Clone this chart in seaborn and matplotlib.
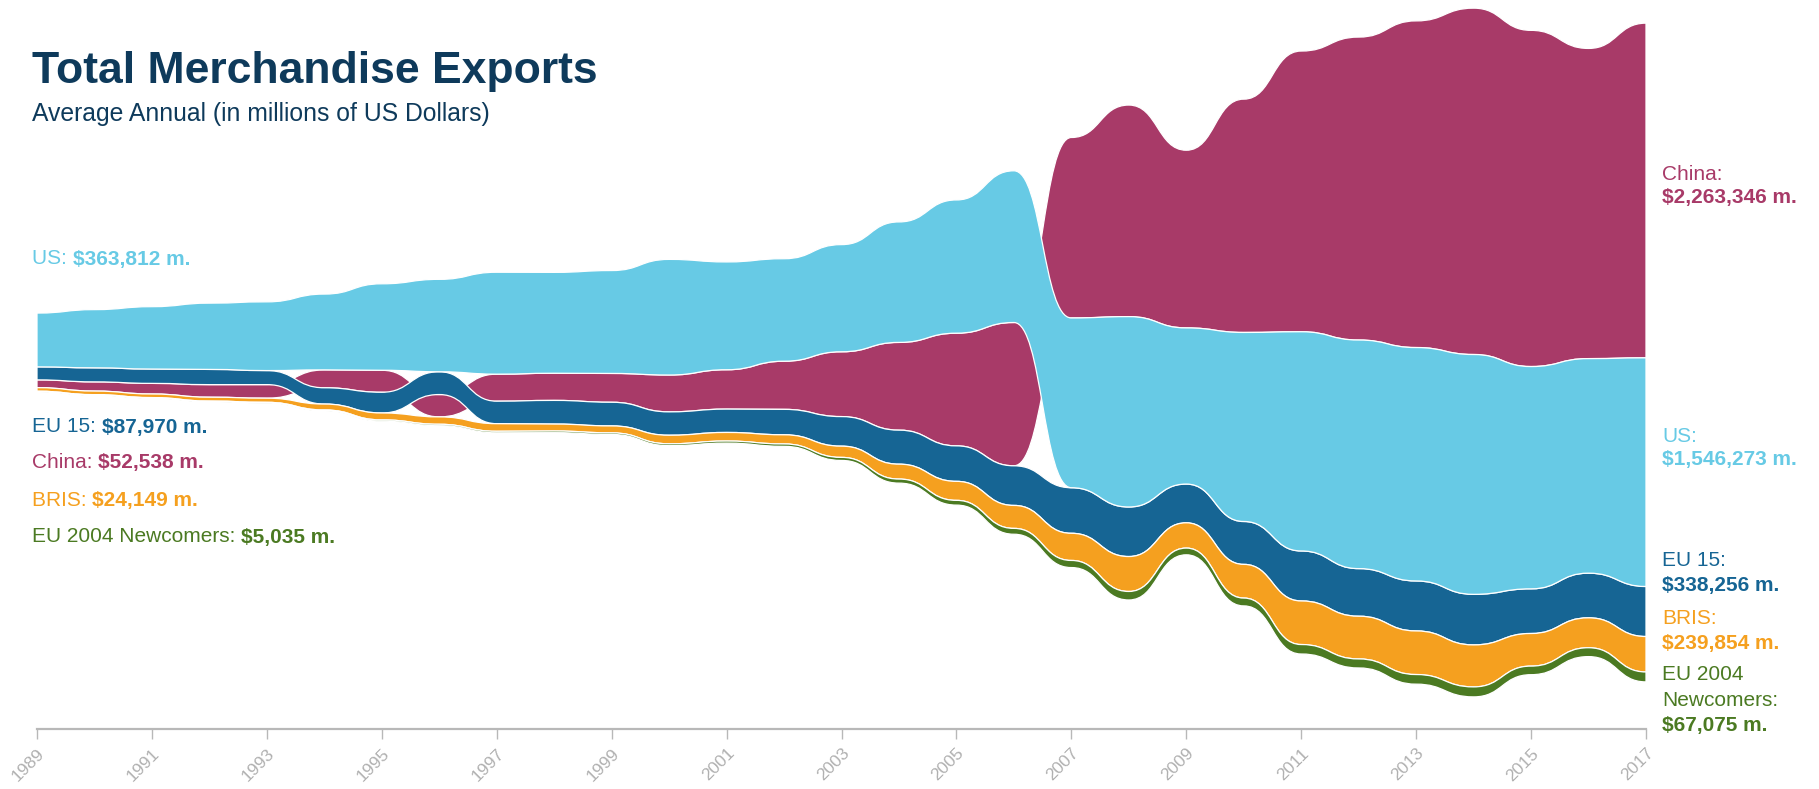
import matplotlib

matplotlib.use('Agg')
import matplotlib.pyplot as plt
import pandas as pd
import seaborn as sns
from matplotlib.patches import PathPatch
from matplotlib.path import Path

years = list(range(1989, 2018))

us = [363812, 393592, 421730, 448164, 464773, 512627, 584742, 625075, 689182, 682138,
      695797, 781918, 729100, 693103, 724771, 814875, 901082, 1025967, 1148199, 1287442,
      1056043, 1278495, 1482508, 1545821, 1578517, 1621874, 1503328, 1451024, 1546273]
china = [52538, 62091, 71843, 84940, 91744, 121006, 148780, 151048, 182792, 183712,
         194931, 249203, 266098, 325596, 438228, 593326, 761953, 968978, 1220456, 1430693,
         1201612, 1577754, 1898381, 2048714, 2209005, 2342293, 2273468, 2097637, 2263346]
eu15 = [87970, 95000, 97000, 103000, 95000, 110000, 140000, 154000, 152000, 160000,
        160000, 158000, 158000, 172000, 200000, 230000, 240000, 268000, 308000, 335000,
        262000, 290000, 338000, 322000, 338000, 342000, 302000, 302000, 338256]
bris = [24149, 24300, 24300, 26300, 28100, 40000, 47000, 50000, 51500, 47000,
        47000, 58000, 58000, 62000, 76000, 100700, 128600, 155300, 183800, 236300,
        171000, 227800, 294700, 288900, 294800, 284000, 220500, 202300, 239854]
newcomers = [5035, 5200, 5300, 5500, 5800, 6800, 9000, 9600, 10200, 11200,
             11000, 12500, 14000, 16000, 20500, 27500, 32000, 39500, 48000, 57600,
             45500, 53000, 64000, 61000, 65000, 67500, 58000, 60000, 67075]

# drawing order: later names sit on top where bands cross
draw_order = ['China', 'EU 15', 'US', 'BRIS', 'EU 2004 Newcomers']
colors = {
    'US': '#67cae5',
    'China': '#a83a68',
    'EU 15': '#166594',
    'BRIS': '#f5a01f',
    'EU 2004 Newcomers': '#4b7a22',
}

df = pd.DataFrame({
    'US': us,
    'China': china,
    'EU 15': eu15,
    'BRIS': bris,
    'EU 2004 Newcomers': newcomers,
}, index=years)


def ranked_silhouette(data):
    tops = pd.DataFrame(index=data.index, columns=data.columns, dtype=float)
    bottoms = tops.copy()
    for year, row in data.iterrows():
        level = row.sum() / 2
        for name in row.sort_values(ascending=False).index:
            tops.loc[year, name] = level
            level -= row[name]
            bottoms.loc[year, name] = level
    return tops, bottoms


def bump_band(xs, top, bottom):
    verts = [(xs[0], top[0])]
    codes = [Path.MOVETO]
    for i in range(1, len(xs)):
        mid = (xs[i - 1] + xs[i]) / 2
        verts += [(mid, top[i - 1]), (mid, top[i]), (xs[i], top[i])]
        codes += [Path.CURVE4] * 3
    verts.append((xs[-1], bottom[-1]))
    codes.append(Path.LINETO)
    for i in range(len(xs) - 1, 0, -1):
        mid = (xs[i - 1] + xs[i]) / 2
        verts += [(mid, bottom[i]), (mid, bottom[i - 1]), (xs[i - 1], bottom[i - 1])]
        codes += [Path.CURVE4] * 3
    verts.append((xs[0], top[0]))
    codes.append(Path.CLOSEPOLY)
    return Path(verts, codes)


sns.set_theme(style='white')
plt.rcParams['font.family'] = ['Liberation Sans', 'DejaVu Sans']

fig = plt.figure(figsize=(18.19, 7.89), dpi=100)
ax = fig.add_axes([37 / 1819, 60 / 789, 1609 / 1819, 729 / 789])

tops, bottoms = ranked_silhouette(df)
xs = list(df.index)
for z, name in enumerate(draw_order):
    path = bump_band(xs, tops[name].tolist(), bottoms[name].tolist())
    ax.add_patch(PathPatch(path, facecolor=colors[name], edgecolor='white',
                           linewidth=0.9, zorder=2 + z))

ax.set_xlim(1989, 2017)
ax.set_ylim(-2546000, 2384000)
ax.set_yticks([])
ax.set_xticks(years[::2])
ax.set_xticklabels([str(y) for y in years[::2]], rotation=45, ha='right',
                   va='top', rotation_mode='anchor')
ax.tick_params(axis='x', bottom=True, length=7, width=1, color='#b8b8b8',
               pad=5, labelsize=12.5, labelcolor='#b0b0b0')
sns.despine(ax=ax, left=True)
ax.spines['bottom'].set_color('#b8b8b8')
ax.spines['bottom'].set_linewidth(1.6)
ax.patch.set_alpha(0)


def fx(px):
    return px / 1819


def fy(px):
    return 1 - px / 789


fig.text(fx(32), fy(72), 'Total Merchandise Exports', fontsize=32, fontweight='bold',
         color='#0e3a5b', va='center')
fig.text(fx(32), fy(114), 'Average Annual (in millions of US Dollars)', fontsize=17.8,
         color='#0e3a5b', va='center')

left_labels = [
    ('US: ', '$363,812 m.', 'US', 259),
    ('EU 15: ', '$87,970 m.', 'EU 15', 427),
    ('China: ', '$52,538 m.', 'China', 463),
    ('BRIS: ', '$24,149 m.', 'BRIS', 500),
    ('EU 2004 Newcomers: ', '$5,035 m.', 'EU 2004 Newcomers', 537),
]
for prefix, value, name, ypx in left_labels:
    t = fig.text(fx(32), fy(ypx), prefix, fontsize=15, color=colors[name], va='center')
    fig.canvas.draw()
    bb = t.get_window_extent()
    fig.text(bb.x1 / fig.bbox.width, fy(ypx), value, fontsize=15, fontweight='bold',
             color=colors[name], va='center')

right_labels = [
    ('China:', 'China', 174, False),
    ('$2,263,346 m.', 'China', 197, True),
    ('US:', 'US', 436, False),
    ('$1,546,273 m.', 'US', 460, True),
    ('EU 15:', 'EU 15', 560, False),
    ('$338,256 m.', 'EU 15', 586, True),
    ('BRIS:', 'BRIS', 619, False),
    ('$239,854 m.', 'BRIS', 644, True),
    ('EU 2004', 'EU 2004 Newcomers', 674, False),
    ('Newcomers:', 'EU 2004 Newcomers', 701, False),
    ('$67,075 m.', 'EU 2004 Newcomers', 726, True),
]
for text, name, ypx, bold in right_labels:
    fig.text(fx(1662), fy(ypx), text, fontsize=15, color=colors[name], va='center',
             fontweight='bold' if bold else 'normal')

fig.savefig('out.png', dpi=100)
plt.close(fig)
